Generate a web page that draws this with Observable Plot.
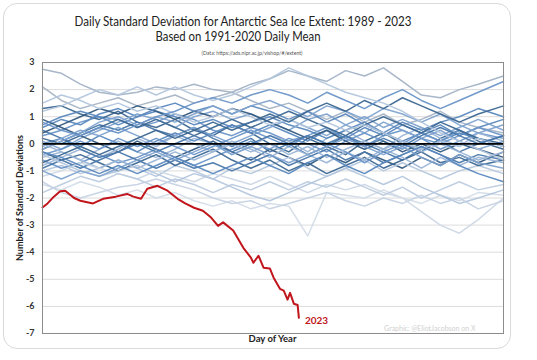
<!DOCTYPE html>
<html><head><meta charset="utf-8">
<script src="https://cdn.jsdelivr.net/npm/d3@7"></script>
<script src="https://cdn.jsdelivr.net/npm/@observablehq/plot@0.6"></script>
<style>
body{margin:0;background:#fff;width:537px;height:360px;overflow:hidden;position:relative;font-family:Lato,"Open Sans",sans-serif}
#card{position:absolute;left:3px;top:3px;width:508px;height:346px;border:1px solid #d9d9d9;border-radius:14px;box-sizing:border-box}
#titles{position:absolute;left:0;top:0}
#chart{position:absolute;left:0;top:55px}
#xlab{position:absolute;left:42px;width:461px;top:333px;text-align:center;font-weight:700;font-size:9.5px;color:#222}
#ylab{position:absolute;left:19px;top:198px;transform:translate(-50%,-50%) rotate(-90deg);white-space:nowrap;font-weight:700;font-size:9px;color:#222}
</style></head>
<body>
<div id="card"></div>
<svg id="titles" width="537" height="60">
  <text x="243" y="26" text-anchor="middle" font-size="13" fill="#222" textLength="337" lengthAdjust="spacingAndGlyphs">Daily Standard Deviation for Antarctic Sea Ice Extent: 1989 - 2023</text>
  <text x="238" y="41" text-anchor="middle" font-size="13" fill="#222" textLength="165" lengthAdjust="spacingAndGlyphs">Based on 1991-2020 Daily Mean</text>
  <text x="252" y="55" text-anchor="middle" font-size="6" fill="#555" textLength="101" lengthAdjust="spacingAndGlyphs">(Data: https://ads.nipr.ac.jp/vishop/#/extent)</text>
</svg>
<div id="chart"></div>
<div id="xlab">Day of Year</div>
<div id="ylab">Number of Standard Deviations</div>
<script>
const days = [1,16,31,46,61,76,91,106,121,136,151,166,181,196,211,226,241,256,271,286,301,316,331,346,366];
const years = [1989,1990,1991,1992,1993,1994,1995,1996,1997,1998,1999,2000,2001,2002,2003,2004,2005,2006,2007,2008,2009,2010,2011,2012,2013,2014,2015,2016,2017,2018,2019,2020,2021,2022];
const y1989 = [0.3,0.5,0.8,1.0,0.9,0.6,0.8,1.1,0.9,0.5,0.3,0.6,0.4,0.1,0.3,0.6,0.2,-0.1,0.3,0.5,0.2,-0.2,0.1,0.4,0.2];
const y1990 = [1.3,1.4,1.1,0.9,1.2,0.8,0.6,0.9,0.5,0.3,0.7,0.4,0.0,-0.3,0.2,-0.1,-0.4,0.1,0.4,0.0,-0.3,0.2,0.5,0.1,-0.2];
const y1991 = [-0.5,-0.3,-0.6,-0.2,0.1,-0.3,-0.5,-0.2,0.2,0.0,-0.4,-0.1,0.3,0.1,-0.3,0.2,0.5,0.1,-0.2,0.3,0.6,0.2,-0.1,0.4,0.1];
const y1992 = [2.1,1.6,1.3,1.5,1.7,1.4,1.6,1.8,1.5,1.7,1.9,1.6,1.3,1.5,1.2,0.9,1.2,0.8,1.1,0.7,0.9,1.2,0.8,0.6,0.4];
const y1993 = [0.6,0.9,0.7,1.1,1.3,1.0,1.2,1.0,0.7,0.9,0.6,0.8,1.0,0.7,0.5,0.2,0.5,0.8,0.4,0.1,0.4,0.7,0.3,0.6,0.9];
const y1994 = [-0.2,0.1,0.4,0.7,0.5,0.8,0.5,0.3,0.6,0.2,-0.1,0.2,-0.3,0.0,-0.4,-0.1,0.3,0.0,-0.3,-0.6,-0.2,0.1,-0.3,0.0,0.3];
const y1995 = [0.1,-0.2,0.2,0.5,0.8,1.1,0.9,0.6,1.0,1.2,0.9,1.1,0.8,0.5,0.9,1.1,0.7,0.4,0.8,0.5,0.2,0.5,0.1,-0.2,0.1];
const y1996 = [0.9,0.6,0.3,0.0,-0.3,0.1,-0.2,-0.5,-0.2,0.1,-0.3,-0.6,-0.2,-0.5,-0.8,-0.4,-0.7,-0.3,-0.6,-0.9,-0.5,-0.8,-0.4,-0.7,-0.3];
const y1997 = [-1.0,-0.8,-1.1,-0.9,-0.6,-0.9,-1.2,-0.8,-1.0,-1.3,-0.9,-1.1,-0.8,-0.5,-0.9,-1.2,-0.9,-0.6,-1.0,-0.7,-1.0,-1.3,-1.0,-0.8,-1.1];
const y1998 = [-0.6,-0.9,-0.7,-0.4,-0.7,-0.5,-0.2,-0.5,-0.8,-0.5,-0.2,0.1,-0.2,0.2,0.0,-0.3,0.1,0.4,0.1,-0.2,0.2,0.0,0.3,0.6,0.3];
const y1999 = [-0.3,-0.6,-0.4,-0.7,-1.0,-0.7,-0.4,-0.8,-0.5,-0.2,-0.6,-0.9,-0.6,-1.0,-0.7,-1.1,-0.8,-0.5,-0.9,-0.6,-0.3,-0.7,-0.5,-0.8,-0.6];
const y2000 = [0.0,0.2,-0.1,0.3,0.0,-0.3,0.1,0.4,0.1,0.4,0.7,0.4,0.7,0.4,0.1,0.5,0.2,0.6,0.3,0.7,0.4,0.1,0.4,0.2,-0.1];
const y2001 = [-0.8,-0.5,-0.2,-0.5,-0.2,0.2,-0.1,0.3,0.0,-0.3,0.1,-0.2,-0.5,-0.1,-0.4,-0.7,-0.3,-0.6,-0.2,-0.5,-0.9,-0.5,-0.8,-0.5,-0.7];
const y2002 = [0.5,0.2,-0.2,-0.5,-0.3,-0.6,-0.9,-0.6,-0.9,-0.7,-1.0,-0.7,-0.4,-0.8,-0.5,-0.2,-0.6,-0.3,-0.7,-0.4,-0.1,-0.4,-0.7,-0.4,-0.6];
const y2003 = [-0.1,0.2,0.5,0.3,0.6,0.3,0.0,0.3,0.6,0.3,0.0,0.3,0.6,0.9,0.6,0.3,0.7,1.0,0.6,0.9,0.6,0.3,0.6,0.9,0.5];
const y2004 = [0.4,0.7,1.0,1.3,1.1,1.4,1.2,0.9,1.2,1.0,1.3,1.1,0.8,0.5,0.2,0.5,0.1,-0.2,0.1,-0.3,0.0,-0.3,0.0,-0.2,-0.5];
const y2005 = [-0.4,-0.2,0.1,-0.2,0.2,-0.1,0.2,-0.1,-0.4,-0.1,0.2,0.5,0.2,-0.1,0.3,0.0,-0.3,-0.7,-0.3,0.0,0.4,0.1,0.5,0.2,-0.1];
const y2006 = [0.7,1.0,1.2,1.0,0.7,1.0,1.3,1.5,1.2,1.4,1.1,1.4,1.2,0.9,1.2,0.8,1.1,0.7,0.4,0.8,0.5,0.8,1.0,1.3,1.0];
const y2007 = [0.2,0.0,0.3,0.6,0.9,0.6,0.9,0.6,0.3,0.6,0.9,0.6,0.9,1.2,0.9,0.6,0.3,0.7,1.0,0.7,0.4,0.8,0.5,0.2,0.0];
const y2008 = [1.5,1.8,1.6,1.3,1.5,1.2,1.4,1.1,0.8,1.0,1.3,1.0,0.7,0.9,0.6,0.8,0.5,0.7,0.4,0.1,-0.2,0.1,-0.1,0.2,-0.1];
const y2009 = [-0.9,-0.6,-0.9,-0.6,-0.3,0.0,-0.3,0.0,0.3,0.0,-0.3,0.0,0.3,0.0,0.3,0.0,0.3,-0.1,0.2,-0.1,0.3,0.6,0.3,0.0,0.3];
const y2010 = [-0.2,0.1,0.4,0.8,1.0,0.7,1.0,0.8,1.1,1.4,1.1,1.4,1.6,1.3,1.0,1.4,1.2,0.9,1.3,1.1,0.8,1.1,0.7,0.4,0.7];
const y2011 = [0.0,-0.3,-0.6,-0.9,-0.6,-0.9,-0.6,-0.3,-0.6,-0.3,0.0,-0.3,0.0,-0.4,-0.1,-0.5,-0.2,0.1,-0.2,0.1,-0.3,0.0,-0.3,-0.6,-0.3];
const y2012 = [-0.7,-0.4,-0.1,-0.4,-0.1,0.2,0.5,0.2,0.5,0.8,0.5,0.8,1.1,0.8,1.2,1.5,1.2,1.6,1.3,1.7,1.4,1.1,0.8,1.1,1.4];
const y2013 = [0.8,0.5,0.3,0.6,0.4,0.7,1.0,1.2,1.5,1.7,1.5,1.8,2.0,1.8,1.5,1.9,1.6,1.3,1.7,2.0,1.6,1.3,1.6,1.9,2.3];
const y2014 = [2.75,2.6,2.2,1.9,1.8,1.9,2.1,2.0,2.2,2.0,1.9,2.2,2.4,2.7,2.5,2.3,2.7,2.5,2.8,2.3,1.8,1.7,2.0,2.2,2.5];
const y2015 = [1.2,1.4,1.7,2.0,1.8,2.1,1.8,2.1,1.8,1.6,1.8,2.1,2.4,2.8,2.5,2.2,1.9,1.7,1.5,1.2,0.8,0.4,0.1,-0.2,-0.6];
const y2016 = [-1.2,-1.0,-0.7,-0.9,-1.1,-1.3,-1.0,-1.2,-1.4,-1.1,-1.3,-1.5,-1.2,-1.5,-1.8,-1.5,-1.7,-1.5,-1.8,-2.0,-2.5,-3.0,-3.3,-2.8,-2.0];
const y2017 = [-1.5,-1.7,-1.4,-1.6,-1.9,-1.7,-2.0,-1.8,-2.1,-2.3,-2.1,-2.4,-2.2,-2.3,-3.4,-1.8,-1.9,-2.0,-1.7,-2.0,-2.2,-1.9,-2.1,-1.8,-1.9];
const y2018 = [-1.8,-1.5,-1.2,-1.4,-1.1,-1.3,-1.6,-1.3,-1.5,-1.8,-1.5,-1.7,-1.4,-1.7,-1.4,-1.6,-1.3,-1.6,-1.9,-1.6,-2.0,-1.7,-1.4,-1.7,-1.5];
const y2019 = [-0.4,-0.7,-1.0,-1.2,-1.0,-0.8,-1.1,-1.4,-1.1,-1.3,-1.6,-1.9,-2.1,-1.8,-1.5,-1.2,-0.9,-1.2,-1.5,-1.2,-1.6,-1.9,-2.2,-2.0,-1.7];
const y2020 = [-1.0,-1.3,-1.0,-1.2,-0.9,-0.6,-0.3,-0.6,-0.3,0.0,-0.4,-0.1,-0.4,-0.7,-0.4,-0.1,0.2,-0.1,-0.4,-0.1,-0.5,-0.8,-0.4,-0.7,-0.9];
const y2021 = [-0.3,-0.5,-0.8,-1.1,-0.8,-1.1,-0.8,-0.5,-0.8,-1.1,-0.8,-0.5,-0.8,-1.1,-0.7,-0.4,-0.8,-1.1,-0.7,-0.4,-0.1,-0.4,-0.8,-1.1,-1.4];
const y2022 = [-1.4,-1.8,-2.0,-1.8,-1.6,-1.5,-1.3,-1.5,-1.7,-2.0,-2.2,-2.1,-2.4,-2.2,-2.0,-1.8,-2.1,-2.3,-2.0,-2.2,-1.9,-2.2,-2.0,-2.4,-2.1];
const days2023 = [1,5,10,15,19,26,31,41,49,59,68,73,79,84,92,100,108,114,121,128,134,140,144,152,160,166,168,172,176,181,184,189,192,195,197,200,203,204];
const y2023 = [-2.35,-2.2,-1.95,-1.75,-1.73,-2.0,-2.1,-2.2,-2.03,-1.95,-1.85,-1.95,-2.03,-1.66,-1.55,-1.73,-2.03,-2.2,-2.36,-2.47,-2.7,-3.03,-2.9,-3.2,-3.84,-4.2,-4.39,-4.13,-4.57,-4.6,-4.94,-5.35,-5.42,-5.75,-5.5,-5.9,-5.95,-6.42];
const yTicks = [3,2,1,0,-1,-2,-3,-4,-5,-6,-7];

const seriesByYear = [y1989,y1990,y1991,y1992,y1993,y1994,y1995,y1996,y1997,y1998,y1999,y2000,y2001,y2002,y2003,y2004,y2005,y2006,y2007,y2008,y2009,y2010,y2011,y2012,y2013,y2014,y2015,y2016,y2017,y2018,y2019,y2020,y2021,y2022];
const lineColors = ["#6a95c8","#3d6892","#9bb5d6","#a7b4c4","#5a88be","#4a78ab","#7fa3cf","#345a7e","#b3c6dd","#6a95c8","#3d6892","#5a88be","#9bb5d6","#4a78ab","#7fa3cf","#345a7e","#6a95c8","#5a88be","#3d6892","#b3c6dd","#4a78ab","#7fa3cf","#9bb5d6","#3d6892","#6a95c8","#a2b2c6","#b3c6dd","#cdd8e6","#d3dce8","#bccbdf","#b3c6dd","#7fa3cf","#5a88be","#c6d3e4"];

const rows = [];
years.forEach((yr, i) => {
  seriesByYear[i].forEach((v, j) => rows.push({year: yr, day: days[j], sd: v, color: lineColors[i]}));
});
const red = days2023.map((d, j) => ({day: d, sd: y2023[j]}));
const redEnd = [red[red.length - 1]];

const chart = Plot.plot({
  width: 537,
  height: 298,
  marginLeft: 42,
  marginRight: 34,
  marginTop: 7,
  marginBottom: 20,
  style: {fontFamily: "Lato, 'Open Sans', sans-serif", background: "transparent"},
  x: {domain: [1, 366], axis: null},
  y: {domain: [-7, 3], ticks: yTicks, tickSize: 0, tickPadding: 8, tickFormat: d => String(d), label: null},
  color: {type: "identity"},
  marks: [
    Plot.gridY(yTicks, {stroke: "#dcdcdc", strokeOpacity: 1, strokeWidth: 1}),
    Plot.line(rows, {x: "day", y: "sd", z: "year", stroke: "color", strokeWidth: 1.5, strokeOpacity: 0.95}),
    Plot.ruleY([0], {stroke: "#000", strokeWidth: 1.8}),
    Plot.line(red, {x: "day", y: "sd", stroke: "#c0161c", strokeWidth: 2}),
    Plot.text(redEnd, {x: "day", y: "sd", text: () => "2023", dx: 6, dy: 3, textAnchor: "start", fill: "#c0161c", fontWeight: 700, fontSize: 10}),
    Plot.text(["Graphic: @EliotJacobson on X"], {frameAnchor: "bottom-right", dx: -28, dy: -3, fill: "#cfcfcf", fontSize: 7}),
    Plot.frame({stroke: "#8c8c8c", strokeWidth: 1})
  ]
});
chart.querySelectorAll("g[aria-label='y-axis tick label'] text, g[aria-label='y-axis'] text").forEach(t => { t.setAttribute("font-weight", "700"); t.setAttribute("font-size", "9"); t.setAttribute("fill", "#333"); });
document.getElementById("chart").appendChild(chart);
</script>
</body></html>
